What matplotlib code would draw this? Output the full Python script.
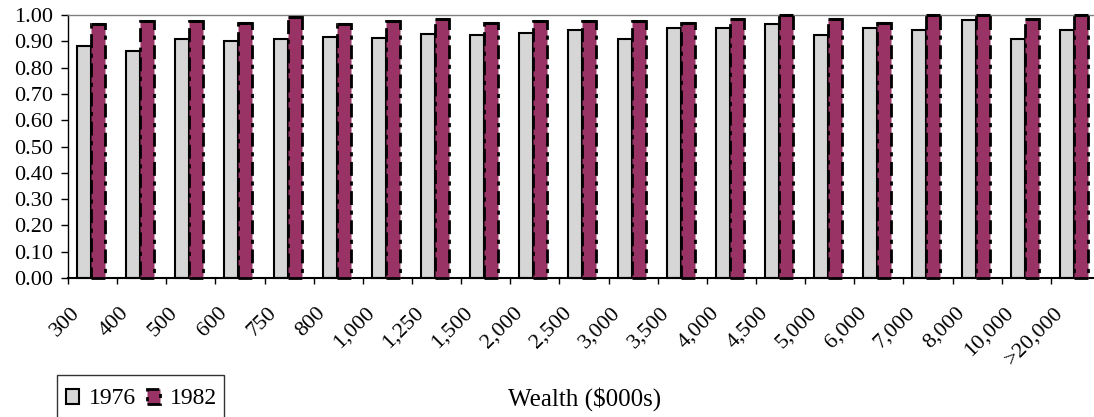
import matplotlib
matplotlib.use("Agg")
import matplotlib.pyplot as plt
import numpy as np
from matplotlib.patches import Patch, Rectangle

plt.rcParams['font.family'] = ['Liberation Serif', 'DejaVu Serif']

# Wealth classes ($000s) and the share for each survey year
categories = ['300', '400', '500', '600', '750', '800', '1,000', '1,250', '1,500',
              '2,000', '2,500', '3,000', '3,500', '4,000', '4,500', '5,000',
              '6,000', '7,000', '8,000', '10,000', '>20,000']
share_1976 = [0.884, 0.863, 0.907, 0.900, 0.907, 0.915, 0.914, 0.929, 0.923,
              0.930, 0.944, 0.907, 0.952, 0.952, 0.966, 0.923, 0.952, 0.944,
              0.981, 0.907, 0.944]
share_1982 = [0.965, 0.978, 0.978, 0.968, 0.992, 0.965, 0.978, 0.983, 0.968,
              0.978, 0.978, 0.978, 0.968, 0.983, 1.000, 0.983, 0.968, 1.000,
              1.000, 0.983, 1.000]
y_ticks = [0.0, 0.1, 0.2, 0.3, 0.4, 0.5, 0.6, 0.7, 0.8, 0.9, 1.0]

GRAY = '#d6d6d6'
PLUM = '#993366'
DASHDOT = (0, (5, 2, 1.5, 2))

W, H = 1094, 417
fig = plt.figure(figsize=(W / 100, H / 100), dpi=100)
ax = fig.add_axes([68 / W, 1 - 278 / H, 1032 / W, 263 / H])

x = np.arange(len(categories))
bw = 0.285
ax.bar(x - 0.175, share_1976, bw, color=GRAY, edgecolor='black',
       linewidth=1.5, zorder=2, clip_on=False)
ax.bar(x + 0.11, share_1982, bw, color=PLUM, edgecolor='black',
       linewidth=2, linestyle=DASHDOT, zorder=3, clip_on=False)
# solid cap along the top of each 1982 bar
ax.hlines(share_1982, x + 0.11 - bw / 2, x + 0.11 + bw / 2, colors='black',
          linewidth=2.2, zorder=4, clip_on=False)

ax.set_xlim(-0.5, len(categories) - 0.5)
ax.set_ylim(0, 1)
ax.set_yticks(y_ticks)
ax.yaxis.set_major_formatter('{x:.2f}')
ax.tick_params(axis='y', length=5, width=1, pad=6, labelsize=16,
               direction='out', colors='black')

# tick marks sit between categories; labels hang from their own positions
ax.set_xticks(np.arange(-0.5, len(categories), 1.0))
ax.set_xticklabels([])
ax.tick_params(axis='x', which='major', length=4.5, width=1, direction='out')
ax.set_xticks(x - 0.315, minor=True)
ax.set_xticklabels(categories, minor=True, rotation=45, ha='right',
                   va='center', rotation_mode='anchor', fontsize=16)
ax.tick_params(axis='x', which='minor', length=0, pad=23)

ax.spines['right'].set_visible(False)
ax.spines['top'].set_color('#808080')
ax.spines['top'].set_linewidth(1)
ax.spines['left'].set_linewidth(1)
ax.spines['bottom'].set_linewidth(1.5)

# legend box runs off the bottom edge of the figure
fig.patches.append(Rectangle((57 / W, 1 - 440 / H), (224 - 57) / W, 65 / H,
                             transform=fig.transFigure, facecolor='white',
                             edgecolor='#333333', linewidth=1, zorder=1))
handles = [
    Patch(facecolor=GRAY, edgecolor='black', linewidth=1.5, label='1976'),
    Patch(facecolor=PLUM, edgecolor='black', linewidth=2, linestyle=DASHDOT,
          label='1982'),
]
leg = fig.legend(handles=handles, loc='center left',
                 bbox_to_anchor=(66 / W, 1 - 399 / H), ncol=2, frameon=False,
                 fontsize=17, handlelength=0.55,
                 handleheight=0.6, handletextpad=0.4, columnspacing=0.5,
                 borderpad=0, borderaxespad=0)
leg.set_zorder(2)

fig.text(585 / W, 1 - 399 / H, 'Wealth ($000s)', ha='center', va='center',
         fontsize=18)

fig.savefig('out.png', dpi=100)
